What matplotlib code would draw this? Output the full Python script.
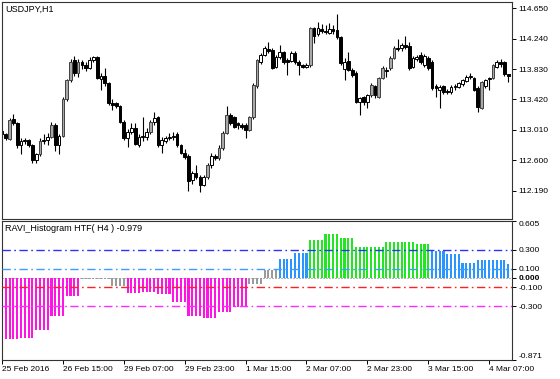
import matplotlib
matplotlib.use('Agg')
import matplotlib.pyplot as plt
import numpy as np

plt.rcParams['font.family'] = ['Liberation Sans', 'DejaVu Sans']

# USDJPY H1 candles, 25 Feb 23:00 .. 4 Mar 2016
opens = [112.99, 112.95, 112.89, 113.16, 113.10, 112.80, 112.86, 112.87, 112.80, 112.60,
         112.68, 112.86, 112.88, 112.92, 113.08, 112.80, 112.93, 113.43, 113.68, 113.95,
         113.78, 113.92, 113.88, 113.85, 113.95, 113.99, 113.70, 113.74, 113.64, 113.37,
         113.37, 113.33, 113.12, 112.90, 112.98, 113.03, 112.80, 112.92, 112.92, 112.98,
         113.12, 113.18, 112.80, 112.86, 112.90, 112.92, 112.95, 112.80, 112.70, 112.66,
         112.33, 112.43, 112.38, 112.27, 112.37, 112.54, 112.66, 112.63, 112.77, 112.97,
         113.21, 113.18, 113.10, 113.07, 113.08, 113.01, 113.18, 113.60, 113.93, 114.02,
         114.10, 114.09, 113.86, 113.99, 114.06, 113.95, 113.94, 114.05, 113.92, 113.88,
         113.86, 113.88, 114.38, 114.31, 114.37, 114.35, 114.32, 114.37, 114.36, 114.26,
         113.83, 113.94, 113.82, 113.78, 113.39, 113.45, 113.38, 113.48, 113.60, 113.46,
         113.71, 113.80, 113.84, 113.98, 114.12, 114.11, 114.15, 114.14, 113.86, 113.96,
         114.02, 113.89, 113.98, 113.92, 113.60, 113.55, 113.60, 113.54, 113.52, 113.59,
         113.59, 113.63, 113.67, 113.72, 113.71, 113.58, 113.31, 113.60, 113.69, 113.71,
         113.86, 113.92, 113.92, 113.76]
highs = [113.01, 112.97, 113.17, 113.22, 113.12, 112.90, 112.90, 112.89, 112.82, 112.70,
         112.90, 112.95, 112.97, 113.12, 113.10, 112.96, 113.45, 113.70, 113.97, 114.01,
         113.97, 113.95, 113.92, 113.99, 114.01, 114.00, 113.78, 113.85, 113.66, 113.42,
         113.39, 113.35, 113.14, 113.02, 113.10, 113.10, 112.95, 113.18, 113.03, 113.15,
         113.25, 113.20, 112.92, 112.93, 112.97, 112.98, 112.98, 112.82, 112.75, 112.68,
         112.46, 112.54, 112.40, 112.40, 112.56, 112.70, 112.68, 112.80, 113.00, 113.33,
         113.24, 113.20, 113.12, 113.10, 113.10, 113.20, 113.64, 113.97, 114.05, 114.14,
         114.20, 114.11, 114.02, 114.15, 114.08, 113.98, 114.08, 114.07, 113.95, 113.90,
         113.91, 114.40, 114.40, 114.47, 114.44, 114.43, 114.45, 114.42, 114.57, 114.28,
         113.98, 114.06, 113.84, 113.80, 113.46, 113.47, 113.50, 113.64, 113.62, 113.73,
         113.87, 113.86, 114.00, 114.14, 114.24, 114.18, 114.28, 114.20, 114.00, 114.02,
         114.06, 114.03, 114.00, 113.95, 113.63, 113.62, 113.62, 113.56, 113.61, 113.63,
         113.66, 113.70, 113.75, 113.78, 113.73, 113.60, 113.67, 113.70, 113.73, 113.90,
         113.95, 113.96, 113.94, 113.77]
lows = [112.93, 112.88, 112.87, 113.08, 112.76, 112.69, 112.82, 112.78, 112.56, 112.57,
        112.66, 112.82, 112.80, 112.90, 112.72, 112.68, 112.92, 113.40, 113.66, 113.74,
        113.72, 113.83, 113.80, 113.83, 113.93, 113.69, 113.55, 113.60, 113.35, 113.28,
        113.30, 113.10, 112.88, 112.78, 112.95, 112.80, 112.78, 112.86, 112.88, 112.96,
        113.08, 112.78, 112.70, 112.83, 112.88, 112.88, 112.78, 112.68, 112.62, 112.18,
        112.28, 112.35, 112.17, 112.25, 112.35, 112.50, 112.60, 112.61, 112.74, 112.95,
        113.08, 113.03, 113.02, 113.02, 112.90, 112.99, 113.16, 113.58, 113.90, 114.00,
        114.05, 113.83, 113.84, 113.97, 113.90, 113.75, 113.92, 113.90, 113.75, 113.84,
        113.84, 113.86, 114.18, 114.28, 114.32, 114.30, 114.30, 114.31, 114.24, 113.89,
        113.68, 113.80, 113.72, 113.37, 113.21, 113.35, 113.30, 113.46, 113.44, 113.44,
        113.69, 113.72, 113.82, 113.96, 114.08, 114.08, 114.10, 113.82, 113.84, 113.94,
        113.90, 113.86, 113.82, 113.55, 113.45, 113.30, 113.50, 113.50, 113.50, 113.55,
        113.57, 113.60, 113.65, 113.70, 113.53, 113.25, 113.29, 113.57, 113.55, 113.69,
        113.84, 113.86, 113.74, 113.66]
closes = [112.95, 112.90, 113.15, 113.10, 112.80, 112.86, 112.87, 112.80, 112.60, 112.68,
          112.86, 112.88, 112.92, 113.08, 112.80, 112.93, 113.43, 113.68, 113.93, 113.78,
          113.92, 113.88, 113.85, 113.95, 113.99, 113.71, 113.74, 113.64, 113.37, 113.35,
          113.33, 113.12, 112.90, 112.98, 113.03, 112.82, 112.92, 112.93, 112.98, 113.12,
          113.17, 112.80, 112.88, 112.90, 112.92, 112.93, 112.80, 112.70, 112.65, 112.32,
          112.43, 112.38, 112.27, 112.37, 112.54, 112.66, 112.63, 112.77, 112.97, 113.21,
          113.10, 113.05, 113.07, 113.05, 113.01, 113.18, 113.62, 113.95, 114.02, 114.12,
          114.08, 113.85, 113.99, 114.06, 113.93, 113.93, 114.05, 113.92, 113.88, 113.86,
          113.88, 114.38, 114.28, 114.38, 114.35, 114.33, 114.37, 114.35, 114.26, 113.91,
          113.93, 113.82, 113.75, 113.39, 113.44, 113.38, 113.48, 113.62, 113.48, 113.71,
          113.85, 113.82, 113.98, 114.12, 114.10, 114.15, 114.13, 113.84, 113.98, 113.99,
          113.93, 114.00, 113.85, 113.58, 113.57, 113.59, 113.52, 113.52, 113.59, 113.60,
          113.64, 113.68, 113.73, 113.74, 113.55, 113.32, 113.65, 113.68, 113.71, 113.88,
          113.92, 113.90, 113.76, 113.74]

# RAVI histogram, one value per H4 bar (first block holds only one H1 bar)
ravi_h4 = [-0.65, -0.65, -0.64, -0.55, -0.40, -0.19, -0.01, -0.01, -0.08, -0.16,
           -0.15, -0.17, -0.26, -0.40, -0.43, -0.36, -0.31, -0.06, 0.08, 0.20,
           0.265, 0.40, 0.47, 0.42, 0.33, 0.33, 0.38, 0.38, 0.36, 0.29,
           0.255, 0.16, 0.195, 0.195, 0.15]

price_ticks = [114.650, 114.240, 113.830, 113.420, 113.010, 112.600, 112.190]
ravi_ticks = [0.605, 0.300, 0.100, 0.000, -0.100, -0.300, -0.871]
date_pos = [0, 16, 32, 48, 64, 80, 96, 112, 128]
date_labels = ['25 Feb 2016', '26 Feb 15:00', '29 Feb 07:00', '29 Feb 23:00', '1 Mar 15:00',
               '2 Mar 07:00', '2 Mar 23:00', '3 Mar 15:00', '4 Mar 07:00']
levels = [0.3, 0.1, -0.1, -0.3]
level_colors = ['#2f2fff', '#3c9cff', '#ff2020', '#ff2aff']

n = len(closes)
x = np.arange(n)
o = np.array(opens); h = np.array(highs); l = np.array(lows); c = np.array(closes)

fig = plt.figure(figsize=(5.6, 3.79), dpi=100)
W, H = 560.0, 379.0
ax = fig.add_axes([2 / W, 1 - 219 / H, 510 / W, 217 / H])
ax2 = fig.add_axes([2 / W, 1 - 360 / H, 510 / W, 139 / H])

# candles: bull hollow (tall ones look grey in the screenshot), bear filled black
up = c >= o
body_lo = np.minimum(o, c)
body_h = np.maximum(np.abs(c - o), 0.012)
tall = body_h > 0.14
ax.vlines(x, l, h, color='black', lw=0.8, zorder=1)
m = up & ~tall
ax.bar(x[m], body_h[m], bottom=body_lo[m], width=0.72, facecolor='white',
       edgecolor='black', linewidth=0.7, zorder=2)
m = up & tall
ax.bar(x[m], body_h[m], bottom=body_lo[m], width=0.72, facecolor='#a8a8a8',
       edgecolor='#404040', linewidth=0.7, zorder=2)
ax.bar(x[~up], body_h[~up], bottom=body_lo[~up], width=0.72, facecolor='black',
       edgecolor='black', linewidth=0.7, zorder=2)

ax.set_xlim(0, 134)
ax.set_ylim(111.808, 114.735)
ax.yaxis.tick_right()
ax.set_yticks(price_ticks)
ax.set_yticklabels(['%.3f' % v for v in price_ticks])
ax.set_xticks([])
ax.tick_params(axis='y', direction='out', length=3, width=0.7, labelsize=6, pad=1.5)
ax.text(0.006, 0.985, 'USDJPY,H1', transform=ax.transAxes, fontsize=6.5, va='top', ha='left')

# histogram
ravi = np.array([ravi_h4[0 if i == 0 else (i - 1) // 4 + 1] for i in range(n)])
cols = []
for v in ravi:
    if v > 0.3:
        cols.append('#22e622')
    elif v > 0.1:
        cols.append('#2b95ff')
    elif v >= -0.1:
        cols.append('#9a9a9a')
    else:
        cols.append('#ff14e6')
ax2.axhline(0, color='#b8b8b8', lw=0.72, ls=(0, (2, 2)), zorder=0, antialiased=False)
ax2.bar(x, ravi, width=0.55, color=cols, zorder=1, antialiased=False)
for lv, lc in zip(levels, level_colors):
    ax2.axhline(lv, color=lc, lw=1.0, ls=(0, (6, 2.5, 1.2, 2.5)), zorder=3)

ax2.set_xlim(0, 134)
ax2.set_ylim(-0.871, 0.605)
ax2.yaxis.tick_right()
ax2.set_yticks(ravi_ticks)
ax2.set_yticklabels(['%.3f' % v for v in ravi_ticks])
ax2.tick_params(axis='y', direction='out', length=3, width=0.7, labelsize=6, pad=1.5)
lbls = ax2.get_yticklabels()
lbls[0].set_va('top')
lbls[-1].set_va('bottom')
lbls[3].set_fontweight('bold')
ax2.set_xticks(date_pos)
ax2.set_xticklabels(date_labels, ha='left')
ax2.tick_params(axis='x', direction='out', length=3, width=0.7, labelsize=6, pad=1.5)
ax2.text(0.006, 0.975, 'RAVI_Histogram HTF( H4 ) -0.979', transform=ax2.transAxes,
         fontsize=6.5, va='top', ha='left')

for a in (ax, ax2):
    for s in a.spines.values():
        s.set_linewidth(0.8)
        s.set_color('#333333')

fig.savefig('out.png', dpi=100, facecolor='white')
